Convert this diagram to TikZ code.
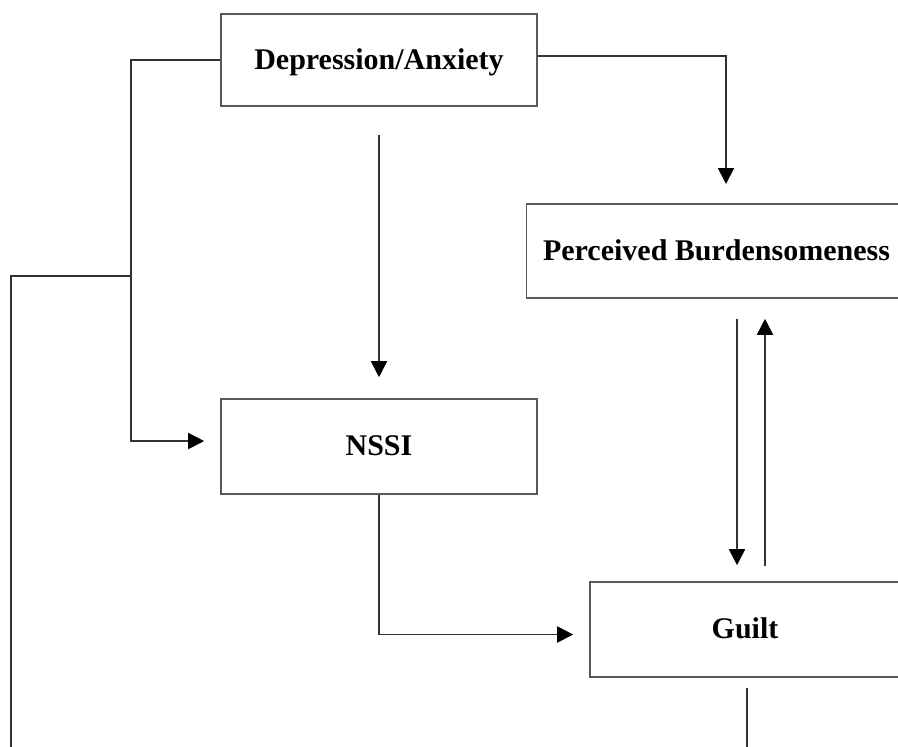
\documentclass[tikz,border=0pt]{standalone}
\usepackage{fontspec}
\setmainfont{Liberation Serif}
\usetikzlibrary{arrows.meta, positioning}

\begin{document}
\begin{tikzpicture}[x=0.5pt, y=-0.5pt, font=\fontsize{15}{18}\selectfont\bfseries,
  box/.style={draw=black!65, line width=0.8pt, inner sep=0pt, text depth=1pt},
  link/.style={draw=black!80, line width=0.9pt},
  arr/.style={link, -{Triangle[length=8pt, width=8pt, color=black]}}]
  \useasboundingbox (0,0) rectangle (898,746);
  \clip (0,0) rectangle (898,746);
  % boxes
  \node[box, minimum width=158pt, minimum height=46pt] (dep) at (379,60) {Depression/Anxiety};
  \node[box, minimum width=190pt, minimum height=47pt] (pb) at (716.5,251) {Perceived Burdensomeness};
  \node[box, minimum width=158pt, minimum height=47.5pt] (nssi) at (379,446.5) {NSSI};
  \node[box, minimum width=155pt, minimum height=47.5pt] (guilt) at (745,629.5) {Guilt};
  % helper points
  \coordinate (split) at (131,276);
  \coordinate (corner) at (11,276);
  \coordinate (pbin) at (726,184);
  % connectors
  \draw[arr] (dep.west) -| (split) |- ([xshift=-8pt,yshift=2.75pt]nssi.west);
  \draw[link] (split) -- (corner) -- ++(0,490);
  \draw[arr] ([yshift=2pt]dep.east) -| (pbin);
  \draw[arr] ([yshift=-14pt]dep.south) -- ([yshift=10.5pt]nssi.north);
  \draw[arr] ([xshift=10.25pt,yshift=-10pt]pb.south) -- ([xshift=-4pt,yshift=8pt]guilt.north);
  \draw[arr] ([xshift=10pt,yshift=7.5pt]guilt.north) -- ([xshift=24.25pt,yshift=-10pt]pb.south);
  \draw[arr] (nssi.south) |- ([xshift=-8pt,yshift=-2.5pt]guilt.west);
  \draw[link] ([xshift=1pt,yshift=-5pt]guilt.south) -- ++(0,80);
\end{tikzpicture}
\end{document}
